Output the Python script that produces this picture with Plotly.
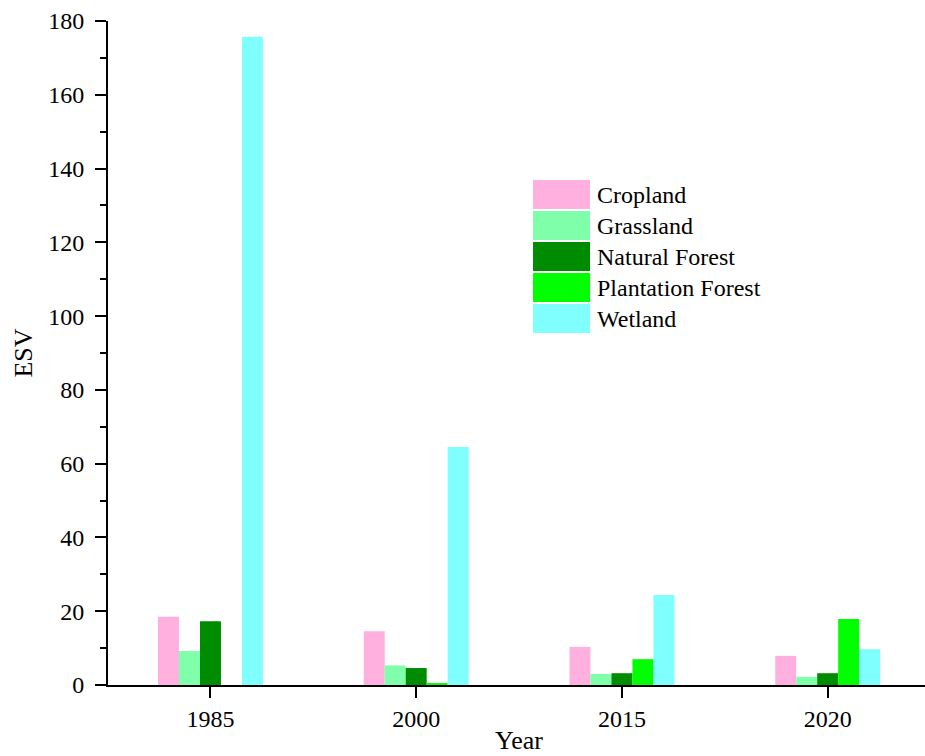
import plotly.graph_objects as go

# ESV by land-use type for each survey year
years = ["1985", "2000", "2015", "2020"]
series_names = ["Cropland", "Grassland", "Natural Forest", "Plantation Forest", "Wetland"]
cropland = [18.5, 14.6, 10.3, 7.9]
grassland = [9.2, 5.3, 3.0, 2.2]
natural_forest = [17.3, 4.6, 3.2, 3.2]
plantation_forest = [0.0, 0.5, 7.0, 17.9]
wetland = [175.7, 64.5, 24.4, 9.7]
series_values = [cropland, grassland, natural_forest, plantation_forest, wetland]
colors = ["#FFB0DF", "#80FFAA", "#008C00", "#00FF00", "#80FFFF"]

FONT = "Liberation Serif"
W, H = 925, 756
M_L, M_R, M_T, M_B = 108, 0, 21, 71

fig = go.Figure()
for name, vals, col in zip(series_names, series_values, colors):
    fig.add_trace(go.Bar(
        x=years, y=vals, name=name,
        marker=dict(color=col, line=dict(width=0)),
        showlegend=False,
    ))

plot_w = W - M_L - M_R
plot_h = H - M_T - M_B


def px_x(px):
    return (px - M_L) / plot_w


def px_y(py):
    return (H - M_B - py) / plot_h


# Legend drawn as large colour swatches with labels beside them
shapes = []
annotations = []
sw_x0, sw_x1 = 533, 590
row_top, row_pitch, sw_h = 180, 31, 29
for i, (name, col) in enumerate(zip(series_names, colors)):
    top = row_top + i * row_pitch
    shapes.append(dict(
        type="rect", xref="paper", yref="paper",
        x0=px_x(sw_x0), x1=px_x(sw_x1),
        y0=px_y(top + sw_h), y1=px_y(top),
        fillcolor=col, line=dict(width=0), layer="above",
    ))
    annotations.append(dict(
        xref="paper", yref="paper",
        x=px_x(595), y=px_y(top + sw_h / 2),
        xanchor="left", yanchor="middle",
        text=name, showarrow=False,
        font=dict(family=FONT, size=24, color="black"),
    ))

# x-axis title, set low near the bottom edge
annotations.append(dict(
    xref="paper", yref="paper",
    x=px_x(519), y=px_y(724),
    xanchor="center", yanchor="top",
    text="Year", showarrow=False,
    font=dict(family=FONT, size=26, color="black"),
))

fig.update_layout(
    width=W, height=H,
    margin=dict(l=M_L, r=M_R, t=M_T, b=M_B, pad=0, autoexpand=False),
    paper_bgcolor="white", plot_bgcolor="white",
    barmode="group", bargap=0.49, bargroupgap=0,
    font=dict(family=FONT, size=24, color="black"),
    shapes=shapes, annotations=annotations,
    showlegend=False,
)
fig.update_xaxes(
    type="category", range=[-0.498, 3.473], automargin=False,
    showline=True, linecolor="black", linewidth=2,
    ticks="outside", ticklen=11, tickwidth=2, tickcolor="black",
    showgrid=False, zeroline=False,
    tickfont=dict(family=FONT, size=24),
)
fig.update_yaxes(
    range=[0, 180], dtick=20, tick0=0, automargin=False,
    showline=True, linecolor="black", linewidth=2,
    ticks="outside", ticklen=11, tickwidth=2, tickcolor="black",
    ticklabelstandoff=6,
    minor=dict(dtick=10, ticks="outside", ticklen=6, tickwidth=2, tickcolor="black"),
    showgrid=False, zeroline=False,
    tickfont=dict(family=FONT, size=24),
    title=dict(text="ESV", font=dict(family=FONT, size=26), standoff=8),
)

fig.write_html("out.html")
